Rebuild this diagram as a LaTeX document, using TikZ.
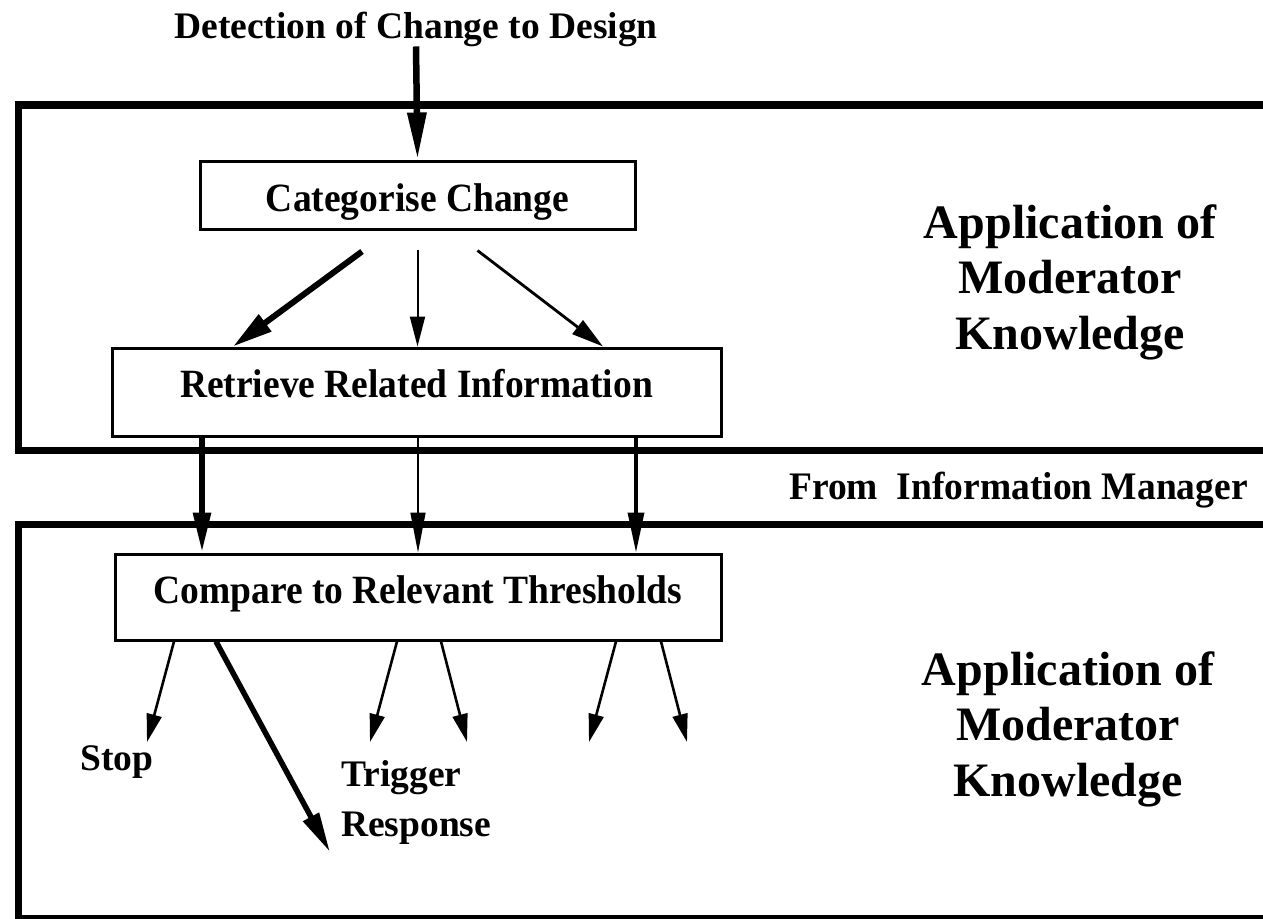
\documentclass[tikz,border=0pt]{standalone}
\usepackage{fontspec}
\setmainfont{Liberation Serif}
\usetikzlibrary{arrows.meta,calc}

% box labels are set slightly taller than the plain face
\newcommand{\tallbox}[1]{\scalebox{1}[1.07]{#1}}

\tikzset{
  txt/.style={font=\bfseries\fontsize{37.5}{46}\selectfont, inner sep=0pt},
  bigtxt/.style={font=\bfseries\fontsize{48}{55.5}\selectfont, inner sep=0pt, align=center},
  procbox/.style={draw, line width=3pt, txt},
  frame/.style={line width=7.5pt},
  heavy/.style={line width=6.5pt, -{Triangle[length=47pt,width=18pt]}},
  fat/.style={line width=6pt, -{Triangle[length=40pt,width=20pt]}},
  fatdown/.style={line width=6pt, -{Triangle[length=40pt,width=17pt]}},
  slim/.style={line width=2pt, -{Triangle[length=30pt,width=15pt]}},
  slimdown/.style={line width=1.6pt, -{Triangle[length=40pt,width=15pt]}},
  mid/.style={line width=2.8pt, -{Triangle[length=32pt,width=17pt]}},
  middown/.style={line width=3.5pt, -{Triangle[length=40pt,width=16pt]}},
  outarrow/.style={line width=2.6pt, -{Triangle[length=28pt,width=15pt]}},
  fatout/.style={line width=5.5pt, -{Triangle[length=40pt,width=17pt]}}
}

\begin{document}
\begin{tikzpicture}[x=1pt,y=-1pt]
  \useasboundingbox (0,0) rectangle (1263,918);
  \fill[white] (0,0) rectangle (1263,918);

  % the two open-ended panels
  \draw[frame] (1290,105) -- (18.5,105) -- (18.5,450.5) -- (1290,450.5);
  \draw[frame] (1290,524.5) -- (18.5,524.5) -- (18.5,918.5) -- (1290,918.5);

  % texts
  \node[txt, anchor=base] (title) at (416,38) {Detection of Change to Design};
  \node[bigtxt, anchor=north] (know1) at (1070,204) {Application of\\Moderator\\Knowledge};
  \node[bigtxt, anchor=north] (know2) at (1068,651) {Application of\\Moderator\\Knowledge};
  \node[txt, anchor=base east] (infoman) at (1248,499) {\scalebox{1}[1.04]{From\ \ Information Manager}};

  % process boxes
  \node[procbox, minimum width=435pt, minimum height=68pt, text height=34pt, text depth=2pt]
    (cat) at (417.5,195) {\tallbox{Categorise Change}};
  \node[procbox, minimum width=609pt, minimum height=88pt, text height=22pt, text depth=12pt]
    (ret) at (416.5,392) {\tallbox{Retrieve Related Information}};
  \node[procbox, minimum width=606pt, minimum height=86pt, text height=24pt, text depth=12pt]
    (cmp) at (418,597) {\tallbox{Compare to Relevant Thresholds}};

  % outcome labels
  \node[txt, anchor=base west] (stop) at (80,770) {Stop};
  \node[txt, anchor=west, align=left, font=\bfseries\fontsize{37.5}{50}\selectfont] (trig) at (341,802) {Trigger\\Response};

  % input arrow
  \draw[heavy] (title.south) -- (cat.north);

  % categorise -> retrieve
  \draw[fat] ($(cat.south)+(-55.5,21)$) -- ($(ret.north)+(-183.5,0)$);
  \draw[slim] ($(cat.south)+(0,19)$) -- ($(ret.north)+(1,0)$);
  \draw[mid] ($(cat.south)+(60,20)$) -- ($(ret.north)+(186.5,0)$);

  % retrieve -> compare (through the information manager band)
  \coordinate (r1) at ($(ret.south)+(-214.5,0)$);
  \coordinate (r2) at ($(ret.south)+(1.5,0)$);
  \coordinate (r3) at ($(ret.south)+(219.5,0)$);
  \draw[fatdown] (r1) -- (r1 |- cmp.north);
  \draw[slimdown] (r2) -- (r2 |- cmp.north);
  \draw[middown] (r3) -- (r3 |- cmp.north);

  % compare -> outcomes
  \coordinate (o1) at (147,742);
  \coordinate (o2) at (330,852);
  \coordinate (o3) at (370,742);
  \coordinate (o4) at (467,742);
  \coordinate (o5) at (589,742);
  \coordinate (o6) at (687,742);
  \draw[outarrow] ($(cmp.south)+(-244,0)$) -- (o1);
  \draw[fatout]   ($(cmp.south)+(-202,0)$) -- (o2);
  \draw[outarrow] ($(cmp.south)+(-21,0)$) -- (o3);
  \draw[outarrow] ($(cmp.south)+(23,0)$) -- (o4);
  \draw[outarrow] ($(cmp.south)+(198,0)$) -- (o5);
  \draw[outarrow] ($(cmp.south)+(243,0)$) -- (o6);
\end{tikzpicture}
\end{document}
